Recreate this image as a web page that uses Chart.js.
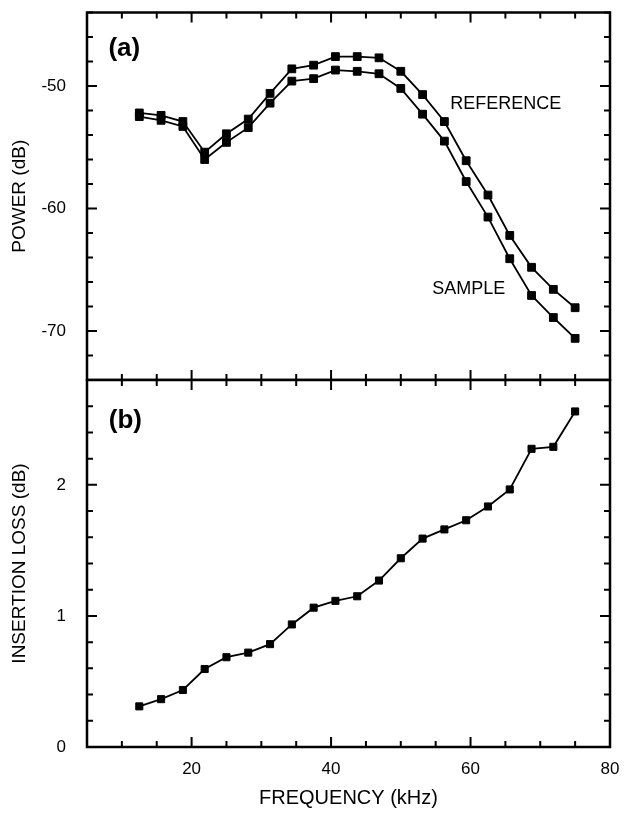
<!DOCTYPE html>
<html>
<head>
<meta charset="utf-8">
<title>Power and insertion loss vs frequency</title>
<script src="https://cdn.jsdelivr.net/npm/chart.js@4.4.1/dist/chart.umd.min.js"></script>
<style>
  html, body { margin: 0; padding: 0; background: #fff; }
  #wrap { position: relative; width: 624px; height: 815px; }
  canvas { position: absolute; left: 0; }
  #powerChart { top: 0; }
  #lossChart { top: 370px; }
</style>
</head>
<body>
<div id="wrap">
  <canvas id="powerChart" width="624" height="381"></canvas>
  <canvas id="lossChart" width="624" height="445"></canvas>
</div>
<script>
// measurement frequencies (kHz)
const frequencies = [
  12.5, 15.625, 18.75, 21.875, 25, 28.125, 31.25, 34.375, 37.5, 40.625, 43.75,
  46.875, 50, 53.125, 56.25, 59.375, 62.5, 65.625, 68.75, 71.875, 75,
];

// received power (dB)
const referencePower = [
  -52.2, -52.4, -52.9, -55.4, -53.9, -52.7, -50.6, -48.6, -48.3, -47.6, -47.6,
  -47.7, -48.8, -50.7, -52.9, -56.1, -58.9, -62.2, -64.8, -66.6, -68.1,
];
const samplePower = [
  -52.5, -52.8, -53.3, -56.0, -54.6, -53.4, -51.4, -49.6, -49.4, -48.7, -48.8,
  -49.0, -50.2, -52.3, -54.5, -57.8, -60.7, -64.1, -67.1, -68.9, -70.6,
];

// insertion loss (dB)
const insertionLoss = [
  0.31, 0.365, 0.435, 0.595, 0.685, 0.72, 0.785, 0.935, 1.063, 1.115, 1.15,
  1.27, 1.44, 1.59, 1.66, 1.73, 1.835, 1.965, 2.275, 2.29, 2.56,
];

const freqTickLabels = [20, 40, 60, 80];
const powerTickLabels = [-50, -60, -70];
const lossTickLabels = [0, 1, 2];

const FONT = "'Liberation Sans', Arial, Helvetica, sans-serif";
Chart.defaults.font.family = FONT;
Chart.defaults.color = "#000";

function findListed(value, list) {
  return list.find((v) => Math.abs(v - value) < 1e-6);
}

function labelOnly(list) {
  return function (value) {
    const v = findListed(value, list);
    return v === undefined ? "" : String(v);
  };
}

// keep the plot box exactly where the layout padding puts it
function fixWidth(w) {
  return function (s) {
    s.width = w;
    s.paddingTop = 0;
    s.paddingBottom = 0;
  };
}
function fixHeight(h) {
  return function (s) {
    s.height = h;
    s.paddingLeft = 0;
    s.paddingRight = 0;
  };
}

// box frame with inward ticks on all four sides, plus text notes
const frameTicks = {
  id: "frameTicks",
  afterDatasetsDraw(chart, args, opts) {
    const { ctx, chartArea: a, scales } = chart;
    const x = scales.x;
    const y = scales.y;
    ctx.save();
    ctx.strokeStyle = "#000";
    ctx.lineWidth = 2;
    ctx.beginPath();
    for (const t of x.ticks) {
      const px = x.getPixelForValue(t.value);
      const len = findListed(t.value, opts.xMajor) !== undefined ? 10 : 6;
      ctx.moveTo(px, a.top);
      ctx.lineTo(px, a.top + len);
      ctx.moveTo(px, a.bottom);
      ctx.lineTo(px, a.bottom - len);
    }
    for (const t of y.ticks) {
      const py = y.getPixelForValue(t.value);
      const len = findListed(t.value, opts.yMajor) !== undefined ? 10 : 6;
      ctx.moveTo(a.left, py);
      ctx.lineTo(a.left + len, py);
      ctx.moveTo(a.right, py);
      ctx.lineTo(a.right - len, py);
    }
    ctx.stroke();
    ctx.lineWidth = 2.5;
    ctx.strokeRect(a.left, a.top, a.right - a.left, a.bottom - a.top);

    ctx.fillStyle = "#000";
    ctx.textBaseline = "middle";
    for (const n of opts.notes || []) {
      ctx.font = n.font;
      ctx.textAlign = n.align;
      ctx.fillText(n.text, x.getPixelForValue(n.x), y.getPixelForValue(n.y));
    }
    ctx.restore();
  },
};

function lineSet(values, radius) {
  return {
    data: values,
    borderColor: "#000",
    borderWidth: 1.8,
    backgroundColor: "#000",
    pointStyle: "rect",
    pointRadius: radius,
    pointBackgroundColor: "#000",
    pointBorderColor: "#000",
    pointBorderWidth: 1,
    tension: 0,
    fill: false,
  };
}

function yTitle(text) {
  return {
    display: true,
    text,
    font: { size: 19 },
    padding: { top: 8, bottom: 0 },
  };
}

const powerChart = new Chart(document.getElementById("powerChart"), {
  type: "line",
  data: {
    labels: frequencies,
    datasets: [lineSet(referencePower, 5.5), lineSet(samplePower, 5.5)],
  },
  options: {
    responsive: false,
    animation: false,
    devicePixelRatio: 1,
    layout: {
      autoPadding: false,
      padding: { top: 12.5, right: 14, bottom: 1, left: 0 },
    },
    plugins: {
      legend: { display: false },
      tooltip: { enabled: false },
      frameTicks: {
        xMajor: freqTickLabels,
        yMajor: powerTickLabels,
        notes: [
          { text: "(a)", x: 10.35, y: -47.0, align: "center", font: `bold 26px ${FONT}` },
          { text: "REFERENCE", x: 57.1, y: -51.5, align: "left", font: `18px ${FONT}` },
          { text: "SAMPLE", x: 54.5, y: -66.6, align: "left", font: `18px ${FONT}` },
        ],
      },
    },
    scales: {
      // shared frequency axis; its labels live on the lower panel
      x: {
        type: "linear",
        display: false,
        min: 5,
        max: 80,
        ticks: { stepSize: 5, autoSkip: false },
      },
      y: {
        min: -74,
        max: -44,
        ticks: {
          stepSize: 2,
          autoSkip: false,
          padding: 13,
          font: { size: 17 },
          callback: labelOnly(powerTickLabels),
        },
        grid: { display: false },
        border: { display: false },
        title: yTitle("POWER (dB)"),
        afterFit: fixWidth(87),
      },
    },
  },
  plugins: [frameTicks],
});

const lossChart = new Chart(document.getElementById("lossChart"), {
  type: "line",
  data: {
    labels: frequencies,
    datasets: [lineSet(insertionLoss, 5)],
  },
  options: {
    responsive: false,
    animation: false,
    devicePixelRatio: 1,
    layout: {
      autoPadding: false,
      padding: { top: 10, right: 14, bottom: 0, left: 0 },
    },
    plugins: {
      legend: { display: false },
      tooltip: { enabled: false },
      frameTicks: {
        xMajor: freqTickLabels,
        yMajor: lossTickLabels,
        notes: [
          { text: "(b)", x: 10.5, y: 2.486, align: "center", font: `bold 26px ${FONT}` },
        ],
      },
    },
    scales: {
      x: {
        type: "linear",
        min: 5,
        max: 80,
        ticks: {
          stepSize: 5,
          autoSkip: false,
          maxRotation: 0,
          padding: 12,
          font: { size: 17 },
          callback: labelOnly(freqTickLabels),
        },
        grid: { display: false, drawTicks: false },
        border: { display: false },
        title: {
          display: true,
          text: "FREQUENCY (kHz)",
          font: { size: 20 },
          padding: { top: 0, bottom: 5 },
        },
        afterFit: fixHeight(68),
      },
      y: {
        min: 0,
        max: 2.8,
        ticks: {
          stepSize: 0.2,
          autoSkip: false,
          padding: 13,
          font: { size: 17 },
          callback: labelOnly(lossTickLabels),
        },
        grid: { display: false },
        border: { display: false },
        title: yTitle("INSERTION LOSS (dB)"),
        afterFit: fixWidth(87),
      },
    },
  },
  plugins: [frameTicks],
});
</script>
</body>
</html>
